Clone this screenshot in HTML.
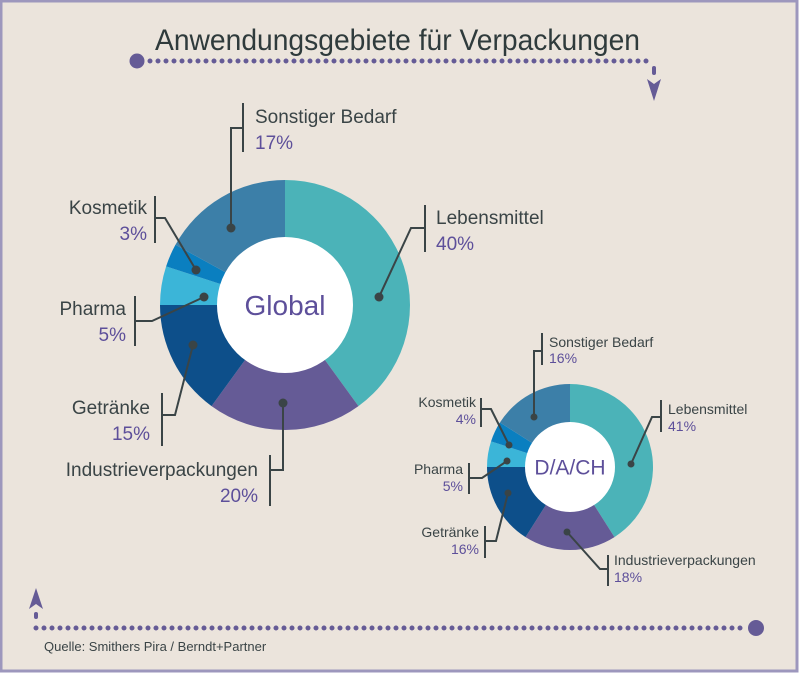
<!DOCTYPE html>
<html><head><meta charset="utf-8"><style>
body{margin:0;width:800px;height:673px;overflow:hidden;background:#fff}
svg{display:block;font-family:"Liberation Sans",sans-serif}
.l{fill:#3a4446}.p{fill:#5d4f9a}.ln{stroke:#3a4446;stroke-width:2;fill:none}
</style></head><body>
<svg id="s" width="800" height="673" viewBox="0 0 800 673">
<rect x="1" y="1" width="796" height="670" fill="#ebe4dc" stroke="#9d97bd" stroke-width="3"/>
<text x="155" y="50" textLength="485" lengthAdjust="spacingAndGlyphs" font-size="30" fill="#2f3b3c">Anwendungsgebiete für Verpackungen</text>
<circle cx="137" cy="61" r="7.5" fill="#655b96"/>
<line x1="150" y1="61" x2="652" y2="61" stroke="#655b96" stroke-width="5" stroke-linecap="round" stroke-dasharray="0 8"/>
<line x1="654" y1="68" x2="654" y2="73" stroke="#655b96" stroke-width="4" stroke-linecap="round"/>
<polygon points="647,79 654,84 661,79 654,101" fill="#655b96"/>
<circle cx="756" cy="628" r="8" fill="#655b96"/>
<line x1="36" y1="628" x2="745" y2="628" stroke="#655b96" stroke-width="5" stroke-linecap="round" stroke-dasharray="0 8"/>
<line x1="36" y1="614" x2="36" y2="617" stroke="#655b96" stroke-width="4" stroke-linecap="round"/>
<polygon points="36,588 43,609 36,604 29,609" fill="#655b96"/>
<text x="44" y="651" font-size="13" fill="#3a4446">Quelle: Smithers Pira / Berndt+Partner</text>
<g id="g1"></g><g id="g2"></g>
<g font-size="19">
<path class="ln" d="M379,297 L411,228 L425,228 M425,205 V252"/>
<text x="436" y="224" class="l">Lebensmittel</text><text x="436" y="250" class="p">40%</text>
<path class="ln" d="M231,228 V128 H243 M243,103 V152"/>
<text x="255" y="123" class="l">Sonstiger Bedarf</text><text x="255" y="149" class="p">17%</text>
<path class="ln" d="M196,270 L165,218 H155 M155,196 V243"/>
<text x="147" y="214" text-anchor="end" class="l">Kosmetik</text><text x="147" y="240" text-anchor="end" class="p">3%</text>
<path class="ln" d="M204,297 L152,321 H135 M135,296 V346"/>
<text x="126" y="315" text-anchor="end" class="l">Pharma</text><text x="126" y="341" text-anchor="end" class="p">5%</text>
<path class="ln" d="M193,345 L175,415 H162 M162,393 V446"/>
<text x="150" y="414" text-anchor="end" class="l">Getränke</text><text x="150" y="440" text-anchor="end" class="p">15%</text>
<path class="ln" d="M283,403 V470 H270 M270,455 V506"/>
<text x="258" y="476" text-anchor="end" class="l">Industrieverpackungen</text><text x="258" y="502" text-anchor="end" class="p">20%</text>
</g>
<g font-size="14">
<path class="ln" d="M631,464 L652,417 H661 M661,400 V432"/>
<text x="668" y="414" class="l">Lebensmittel</text><text x="668" y="431" class="p">41%</text>
<path class="ln" d="M534,417 V351 H542 M542,333 V365"/>
<text x="549" y="347" class="l">Sonstiger Bedarf</text><text x="549" y="363" class="p">16%</text>
<path class="ln" d="M509,445 L491,409 H481 M481,398 V427"/>
<text x="476" y="407" text-anchor="end" class="l">Kosmetik</text><text x="476" y="424" text-anchor="end" class="p">4%</text>
<path class="ln" d="M507,461 L482,478 H469 M469,463 V494"/>
<text x="463" y="474" text-anchor="end" class="l">Pharma</text><text x="463" y="491" text-anchor="end" class="p">5%</text>
<path class="ln" d="M508,493 L496,541 H485 M485,526 V558"/>
<text x="479" y="537" text-anchor="end" class="l">Getränke</text><text x="479" y="554" text-anchor="end" class="p">16%</text>
<path class="ln" d="M567,532 L600,569 H608 M608,555 V586"/>
<text x="614" y="565" class="l">Industrieverpackungen</text><text x="614" y="582" class="p">18%</text>
</g>
</svg>
<script>
var cols=["#4bb3b8","#655b96","#0d4f8a","#3bb5d8","#0a7fc0","#3c7fa8"];
function donut(id,cx,cy,R,r,vals,label,fs){
 var g=document.getElementById(id),a=0,h="";
 vals.forEach(function(v,i){
  var a0=a*Math.PI*2/100-Math.PI/2;a+=v;var a1=a*Math.PI*2/100-Math.PI/2;
  var lg=v>50?1:0;
  h+='<path fill="'+cols[i]+'" d="M'+(cx+R*Math.cos(a0))+','+(cy+R*Math.sin(a0))+' A'+R+','+R+' 0 '+lg+' 1 '+(cx+R*Math.cos(a1))+','+(cy+R*Math.sin(a1))+' L'+cx+','+cy+'Z"/>';
 });
 h+='<circle cx="'+cx+'" cy="'+cy+'" r="'+r+'" fill="#fff"/>';
 h+='<text x="'+cx+'" y="'+(cy+fs*0.35)+'" text-anchor="middle" font-size="'+fs+'" fill="#5d4f9a">'+label+'</text>';
 g.innerHTML=h;
}
donut("g1",285,305,125,68,[40,20,15,5,3,17],"Global",28);
donut("g2",570,467,83,45,[41,18,16,5,4,16],"D/A/CH",21);
var pts=[[379,297],[231,228],[196,270],[204,297],[193,345],[283,403],[631,464],[534,417],[509,445],[507,461],[508,493],[567,532]];
var s=document.getElementById("s"),h="";
pts.forEach(function(p,i){h+='<circle cx="'+p[0]+'" cy="'+p[1]+'" r="'+(i<6?4.5:3.5)+'" fill="#3a4446"/>';});
s.insertAdjacentHTML("beforeend",h);
</script>
</body></html>
